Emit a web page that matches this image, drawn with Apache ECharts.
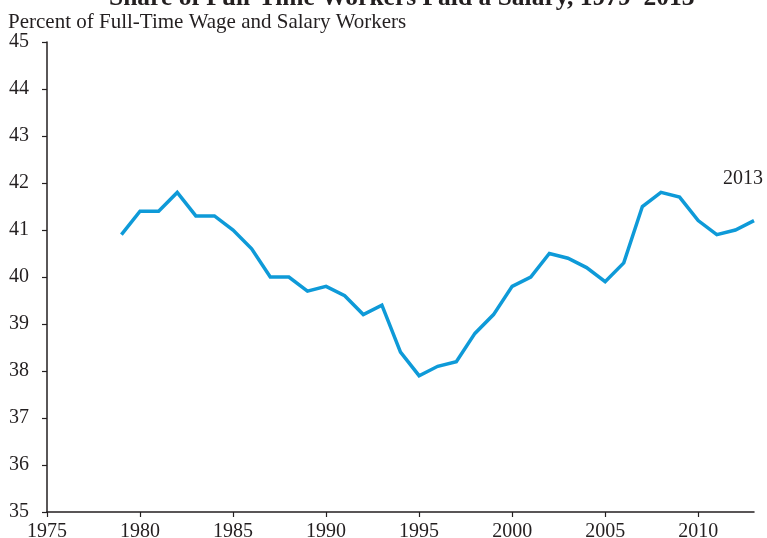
<!DOCTYPE html>
<html>
<head>
<meta charset="utf-8">
<script src="https://cdn.jsdelivr.net/npm/echarts@6/dist/echarts.min.js"></script>
<style>
  html, body { margin: 0; padding: 0; background: #fff; }
  #chart { width: 767px; height: 538px; }
</style>
</head>
<body>
<div id="chart"></div>
<script>
// Share of full-time wage and salary workers paid a salary, 1979–2013
const years = [1979, 1980, 1981, 1982, 1983, 1984, 1985, 1986, 1987, 1988,
  1989, 1990, 1991, 1992, 1993, 1994, 1995, 1996, 1997, 1998,
  1999, 2000, 2001, 2002, 2003, 2004, 2005, 2006, 2007, 2008,
  2009, 2010, 2011, 2012, 2013];
const salaryShare = [40.9, 41.4, 41.4, 41.8, 41.3, 41.3, 41.0, 40.6, 40.0, 40.0,
  39.7, 39.8, 39.6, 39.2, 39.4, 38.4, 37.9, 38.1, 38.2, 38.8,
  39.2, 39.8, 40.0, 40.5, 40.4, 40.2, 39.9, 40.3, 41.5, 41.8,
  41.7, 41.2, 40.9, 41.0, 41.2];
const xTicks = [1975, 1980, 1985, 1990, 1995, 2000, 2005, 2010];
const yTicks = [35, 36, 37, 38, 39, 40, 41, 42, 43, 44, 45];

const titleText = 'Share of Full-Time Workers Paid a Salary, 1979\u20132013';
const subtitleText = 'Percent of Full-Time Wage and Salary Workers';

const serif = '"Liberation Serif", "DejaVu Serif", serif';
const ink = '#231f20';
const lineBlue = '#0e9ad8';

const seriesData = years.map((y, i) => [y, salaryShare[i]]);
const lastYear = years[years.length - 1];

const chart = echarts.init(document.getElementById('chart'), null, { renderer: 'canvas' });
chart.setOption({
  animation: false,
  backgroundColor: '#ffffff',
  graphic: [
    {
      type: 'text',
      left: 109,
      top: -15,
      style: {
        text: titleText,
        font: 'bold 25.5px ' + serif,
        fill: ink
      }
    }
  ],
  title: [
    {
      text: subtitleText,
      left: 3,
      top: 7,
      textStyle: { fontFamily: serif, fontSize: 21, fontWeight: 'normal', color: ink }
    }
  ],
  grid: { left: 47, right: 13, top: 42, bottom: 26, containLabel: false, outerBoundsMode: 'none' },
  xAxis: {
    type: 'value',
    min: 1975,
    max: 2013,
    interval: 5,
    splitLine: { show: false },
    axisLine: { show: true, onZero: false, lineStyle: { color: ink, width: 1.5 } },
    axisTick: { show: true, inside: false, length: 5, customValues: xTicks, lineStyle: { color: ink, width: 1.2 } },
    axisLabel: {
      customValues: xTicks,
      formatter: v => String(v),
      margin: 10,
      fontFamily: serif,
      fontSize: 20,
      color: ink
    }
  },
  yAxis: {
    type: 'value',
    min: 35,
    max: 45,
    interval: 1,
    splitLine: { show: false },
    axisLine: { show: true, lineStyle: { color: ink, width: 1.5 } },
    axisTick: { show: true, inside: false, length: 5, customValues: yTicks, lineStyle: { color: ink, width: 1.2 } },
    axisLabel: {
      customValues: yTicks,
      margin: 18,
      fontFamily: serif,
      fontSize: 20,
      color: ink
    }
  },
  series: [{
    type: 'line',
    data: seriesData,
    showSymbol: false,
    symbol: 'none',
    lineStyle: { color: lineBlue, width: 3.5, join: 'miter' },
    itemStyle: { color: lineBlue },
    endLabel: {
      show: true,
      formatter: String(lastYear),
      align: 'center',
      verticalAlign: 'middle',
      offset: [-19, -42],
      fontFamily: serif,
      fontSize: 20,
      color: ink
    },
    clip: false
  }]
});
</script>
</body>
</html>
